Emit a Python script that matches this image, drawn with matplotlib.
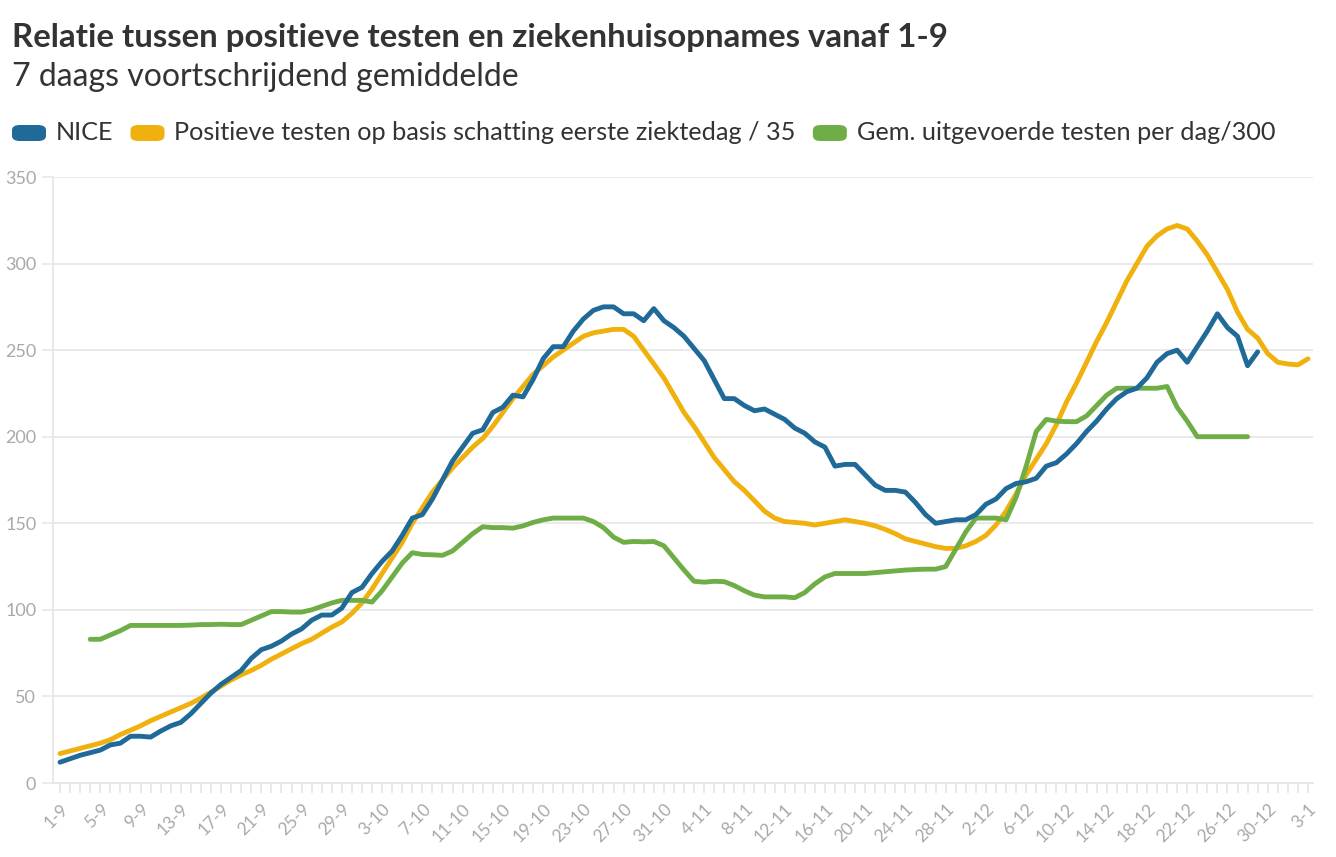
import numpy as np
import pandas as pd
import matplotlib.pyplot as plt
from matplotlib.patches import FancyBboxPatch

# === Data (7-day averages, read per day from 1-9 to 3-1) ===
start_date = "2020-09-01"
end_date = "2021-01-03"

nice = [12, 14, 16, 17.5, 19, 22, 23, 27, 27, 26.5,
        30, 33, 35, 40, 46, 52, 57, 61, 65, 72,
        77, 79, 82, 86, 89, 94, 97, 97, 101, 110,
        113, 121, 128, 134, 143, 153, 155, 164, 175, 186,
        194, 202, 204, 214, 217, 224, 223, 233, 245, 252,
        252, 261, 268, 273, 275, 275, 271, 271, 267, 274,
        267, 263, 258, 251, 244, 233, 222, 222, 218, 215,
        216, 213, 210, 205, 202, 197, 194, 183, 184, 184,
        178, 172, 169, 169, 168, 162, 155, 150, 151, 152,
        152, 155, 161, 164, 170, 173, 174, 176, 183, 185,
        190, 196, 203, 209, 216, 222, 226, 228, 234, 243,
        248, 250, 243, 252, 261, 271, 263, 258, 241, 249]

positief = [17, 18.5, 20, 21.5, 23, 25, 28, 30.5, 33, 36,
            38.5, 41, 43.5, 46, 49, 52.5, 56, 59.5, 62.5, 65,
            68, 71.5, 74.5, 77.5, 80.5, 83, 86.5, 90, 93, 98,
            104, 112, 121, 130, 139, 150, 159, 168, 175, 182,
            188, 194, 199, 206, 214, 222, 229, 236, 241, 246,
            250, 254, 258, 260, 261, 262, 262, 258, 250, 242,
            234, 224, 214, 206, 197, 188, 181, 174, 169, 163,
            157, 153, 151, 150.5, 150, 149, 150, 151, 152, 151,
            150, 148.5, 146.5, 144, 141, 139.5, 138, 136.5, 135.5, 135.5,
            137, 139.5, 143, 149, 157, 167, 178, 187, 196, 207,
            220, 231, 243, 255, 266, 278, 290, 300, 310, 316,
            320, 322, 320, 313, 305, 295, 285, 272, 262, 257,
            248, 243, 242, 241.5, 245]

# tests series starts on 4-9 (day index 3)
testen_start = 3
testen = [83, 83, 85.5, 88, 91, 91, 91, 91, 91, 91,
          91.2, 91.5, 91.5, 91.7, 91.5, 91.5, 94, 96.5, 99, 99,
          98.7, 98.7, 100, 102, 104, 105.5, 105.5, 105.5, 104.5, 111,
          119, 127, 133, 132, 131.8, 131.5, 134, 139, 144, 148,
          147.5, 147.5, 147.2, 148.5, 150.5, 152, 153, 153, 153, 153,
          151, 147.5, 142, 139, 139.5, 139.3, 139.5, 137, 130, 123,
          116.5, 116, 116.5, 116.3, 114, 111, 108.5, 107.5, 107.5, 107.5,
          107, 110, 115, 119, 121, 121, 121, 121, 121.5, 122,
          122.5, 123, 123.3, 123.5, 123.5, 125, 135, 145, 153, 153,
          153, 152, 165, 183, 203, 210, 209, 208.7, 208.7, 212,
          218, 224, 228, 228, 228, 228, 228, 229, 217, 209,
          200, 200, 200, 200, 200, 200]

series_labels = ["NICE",
                 "Positieve testen op basis schatting eerste ziektedag / 35",
                 "Gem. uitgevoerde testen per dag/300"]
colors = ["#1f6a98", "#f0b10e", "#6fae47"]

title = "Relatie tussen positieve testen en ziekenhuisopnames vanaf 1-9"
subtitle = "7 daags voortschrijdend gemiddelde"

# === Setup ===
plt.rcParams.update({
    "font.family": ["Lato", "DejaVu Sans"],
})

dates = pd.date_range(start_date, end_date, freq="D")
day_labels = [f"{d.day}-{d.month}" for d in dates]
n_days = len(dates)

fig = plt.figure(figsize=(13.36, 8.57), dpi=100)
ax = fig.add_axes([53 / 1336, 1 - 783 / 857, 1260 / 1336, 606 / 857])

line_kw = dict(lw=3.5, solid_capstyle="round", solid_joinstyle="round")
ax.plot(np.arange(len(nice)), nice, color=colors[0], zorder=3, **line_kw)
ax.plot(np.arange(len(positief)), positief, color=colors[1], zorder=2, **line_kw)
ax.plot(np.arange(testen_start, testen_start + len(testen)), testen,
        color=colors[2], zorder=2, **line_kw)

ax.set_xlim(-0.7, n_days - 1 + 0.5)
ax.set_ylim(0, 350)
ax.set_yticks(np.arange(0, 351, 50))
ax.grid(axis="y", color="#e8e8e8", lw=1.3, zorder=0)
ax.set_axisbelow(True)

for side in ["top", "right"]:
    ax.spines[side].set_visible(False)
for side in ["left", "bottom"]:
    ax.spines[side].set_color("#e6e6e6")
    ax.spines[side].set_linewidth(1.3)

ax.set_xticks(np.arange(n_days), minor=True)
ax.set_xticks(np.arange(0, n_days, 4))
ax.set_xticklabels(day_labels[::4], rotation=45, ha="right", va="top",
                   rotation_mode="anchor", fontsize=12.5, color="#a9a9a9")
ax.tick_params(axis="x", which="both", length=7, width=1.1, color="#e3e3e3", pad=6)
ax.tick_params(axis="y", length=8, width=1.1, color="#e6e6e6",
               labelsize=13, labelcolor="#a9a9a9", pad=4)

# === Titles ===
fig.text(12 / 1336, 1 - 38 / 857, title, fontsize=23.8, fontweight="bold",
         color="#333333", va="center", ha="left")
fig.text(12 / 1336, 1 - 77 / 857, subtitle, fontsize=23,
         color="#333333", va="center", ha="left")

# === Legend (pill swatches + labels) ===
fig.canvas.draw()
renderer = fig.canvas.get_renderer()
x_px = 12
y_px = 857 - 133
for lab, col in zip(series_labels, colors):
    patch = FancyBboxPatch((x_px / 1336, (y_px - 8) / 857), 34 / 1336, 16 / 857,
                           boxstyle="round,pad=0,rounding_size=0.006",
                           transform=fig.transFigure, facecolor=col,
                           edgecolor="none")
    fig.patches.append(patch)
    t = fig.text((x_px + 44) / 1336, y_px / 857, lab, fontsize=18.2,
                 color="#333333", va="center", ha="left")
    bb = t.get_window_extent(renderer)
    x_px = bb.x1 + 17

fig.savefig("out.png", dpi=100)
